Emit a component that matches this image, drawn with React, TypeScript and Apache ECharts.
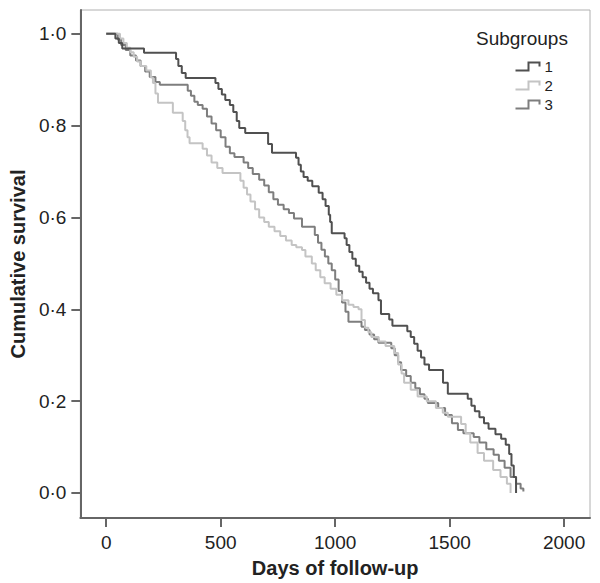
import React, { useEffect, useRef } from "react";
import * as echarts from "echarts";

// Kaplan-Meier step points: [day, cumulative survival after event]
const group1: [number, number][] = [
  [0, 1.0], [40, 0.99], [55, 0.98], [70, 0.968], [165, 0.959], [305, 0.945], [315, 0.93], [330, 0.915],
  [347, 0.904], [477, 0.893], [490, 0.88], [505, 0.868], [520, 0.856], [540, 0.845], [555, 0.83],
  [570, 0.81], [581, 0.795], [607, 0.784], [707, 0.76], [724, 0.741], [829, 0.73], [840, 0.715],
  [850, 0.7], [862, 0.688], [880, 0.68], [900, 0.668], [928, 0.654], [945, 0.64], [958, 0.625],
  [972, 0.606], [978, 0.59], [985, 0.566], [1041, 0.555], [1050, 0.54], [1062, 0.525], [1075, 0.51],
  [1090, 0.495], [1105, 0.482], [1120, 0.47], [1135, 0.458], [1150, 0.445], [1165, 0.435],
  [1189, 0.42], [1200, 0.39], [1236, 0.378], [1250, 0.364], [1315, 0.352], [1330, 0.34],
  [1345, 0.325], [1360, 0.31], [1375, 0.295], [1390, 0.28], [1410, 0.268], [1471, 0.24],
  [1492, 0.216], [1579, 0.205], [1595, 0.19], [1610, 0.178], [1630, 0.165], [1650, 0.152],
  [1670, 0.14], [1700, 0.128], [1725, 0.118], [1745, 0.105], [1760, 0.085], [1770, 0.06],
  [1780, 0.035], [1790, 0.0],
];

const group2: [number, number][] = [
  [0, 1.0], [60, 0.99], [75, 0.98], [90, 0.97], [105, 0.96], [120, 0.95], [135, 0.94], [150, 0.93],
  [175, 0.92], [195, 0.905], [204, 0.893], [215, 0.87], [226, 0.85], [291, 0.828], [334, 0.81],
  [345, 0.79], [355, 0.775], [364, 0.762], [421, 0.75], [440, 0.735], [460, 0.72], [485, 0.708],
  [508, 0.697], [586, 0.68], [600, 0.665], [615, 0.65], [630, 0.635], [650, 0.618], [668, 0.6],
  [690, 0.59], [710, 0.58], [735, 0.57], [760, 0.56], [785, 0.55], [810, 0.54], [830, 0.535],
  [855, 0.529], [870, 0.515], [898, 0.5], [915, 0.485], [935, 0.47], [954, 0.457], [980, 0.445],
  [1005, 0.432], [1030, 0.42], [1058, 0.41], [1080, 0.405], [1102, 0.4], [1115, 0.377],
  [1130, 0.36], [1145, 0.35], [1158, 0.34], [1190, 0.33], [1220, 0.32], [1258, 0.305],
  [1275, 0.28], [1290, 0.26], [1301, 0.24], [1330, 0.225], [1360, 0.21], [1400, 0.2],
  [1440, 0.185], [1470, 0.175], [1492, 0.166], [1550, 0.15], [1570, 0.13], [1590, 0.11],
  [1622, 0.087], [1650, 0.07], [1690, 0.05], [1722, 0.035], [1750, 0.02], [1766, 0.0],
];

const group3: [number, number][] = [
  [0, 1.0], [50, 0.988], [65, 0.976], [85, 0.965], [105, 0.953], [130, 0.942], [150, 0.93],
  [170, 0.918], [190, 0.906], [215, 0.895], [234, 0.889], [356, 0.876], [370, 0.865], [385, 0.852],
  [400, 0.845], [421, 0.837], [440, 0.82], [460, 0.805], [480, 0.79], [500, 0.775], [521, 0.754],
  [540, 0.74], [560, 0.732], [600, 0.72], [620, 0.708], [640, 0.695], [668, 0.682], [690, 0.67],
  [710, 0.655], [730, 0.64], [750, 0.628], [775, 0.618], [798, 0.61], [820, 0.598], [855, 0.58],
  [911, 0.562], [925, 0.545], [940, 0.53], [955, 0.515], [970, 0.5], [985, 0.485], [1000, 0.465],
  [1015, 0.44], [1030, 0.415], [1045, 0.395], [1058, 0.373], [1115, 0.362], [1130, 0.355],
  [1150, 0.345], [1170, 0.335], [1189, 0.327], [1245, 0.315], [1260, 0.3], [1275, 0.285],
  [1288, 0.268], [1310, 0.255], [1330, 0.24], [1350, 0.228], [1370, 0.215], [1390, 0.205],
  [1405, 0.196], [1450, 0.185], [1480, 0.17], [1510, 0.152], [1536, 0.137], [1560, 0.13],
  [1605, 0.122], [1630, 0.11], [1660, 0.095], [1692, 0.083], [1715, 0.07], [1740, 0.055],
  [1766, 0.035], [1790, 0.02], [1810, 0.01], [1822, 0.003],
];

const seriesNames = ["1", "2", "3"];
const seriesColors = ["#505050", "#c4c4c4", "#7e7e7e"];
const xTicks = [0, 500, 1000, 1500, 2000];
const yTicks = [0, 0.2, 0.4, 0.6, 0.8, 1.0];

const FONT = "'Liberation Sans', Arial, sans-serif";
const stepIcon = "path://M0,10 L13,10 L13,2 L24,2 L24,6";

export default function App() {
  const ref = useRef<HTMLDivElement>(null);
  useEffect(() => {
    if (!ref.current) return;
    const chart = echarts.init(ref.current, null, { renderer: "svg" });
    const datasets = [group1, group2, group3];
    const order = [1, 2, 0]; // draw darkest on top
    chart.setOption({
      animation: false,
      backgroundColor: "#ffffff",
      grid: {
        left: 77, right: 10, top: 10, bottom: 65,
        show: true, borderColor: "#b0b0b0", borderWidth: 1, backgroundColor: "transparent",
      },
      graphic: [
        {
          type: "text", left: 476, top: 29,
          style: { text: "Subgroups", fontSize: 19, fontFamily: FONT, fill: "#222" },
        },
      ],
      legend: {
        orient: "vertical", left: 508, top: 54,
        itemWidth: 24, itemHeight: 8, itemGap: 4,
        textStyle: { fontSize: 15, lineHeight: 15, fontFamily: FONT, color: "#222" },
        data: seriesNames.map((n, i) => ({
          name: n,
          icon: stepIcon,
          itemStyle: { color: "none", borderColor: seriesColors[i], borderWidth: 2 },
        })),
      },
      xAxis: {
        type: "value", min: -113, max: 2113,
        name: "Days of follow-up", nameLocation: "middle", nameGap: 40,
        nameTextStyle: { fontSize: 20, fontWeight: "bold", fontFamily: FONT, color: "#222" },
        axisLine: { show: true, onZero: false, lineStyle: { color: "#666", width: 2 } },
        axisTick: { show: true, length: 9, lineStyle: { color: "#666", width: 2 }, customValues: xTicks },
        axisLabel: {
          customValues: xTicks, fontSize: 19, fontFamily: FONT, color: "#222", margin: 15,
          formatter: (v: number) => String(v),
        },
        splitLine: { show: false },
      },
      yAxis: {
        type: "value", min: -0.0545, max: 1.052,
        name: "Cumulative survival", nameLocation: "middle", nameGap: 52, nameRotate: 90,
        nameTextStyle: { fontSize: 20, fontWeight: "bold", fontFamily: FONT, color: "#222" },
        axisLine: { show: true, onZero: false, lineStyle: { color: "#666", width: 2 } },
        axisTick: { show: true, length: 9, lineStyle: { color: "#666", width: 2 }, customValues: yTicks },
        axisLabel: {
          customValues: yTicks, fontSize: 19, fontFamily: FONT, color: "#222", margin: 14,
          formatter: (v: number) => v.toFixed(1).replace(".", "\u00b7"),
        },
        splitLine: { show: false },
      },
      series: order.map((i) => ({
        name: seriesNames[i],
        type: "line",
        step: "end",
        showSymbol: false,
        symbol: "none",
        data: datasets[i],
        lineStyle: { color: seriesColors[i], width: 2 },
        itemStyle: { color: seriesColors[i] },
        z: 3 - i,
      })),
    });
    return () => chart.dispose();
  }, []);
  return (
    <div
      ref={ref}
      style={{ position: "fixed", left: 0, top: 0, width: 600, height: 583, background: "#fff" }}
    />
  );
}
